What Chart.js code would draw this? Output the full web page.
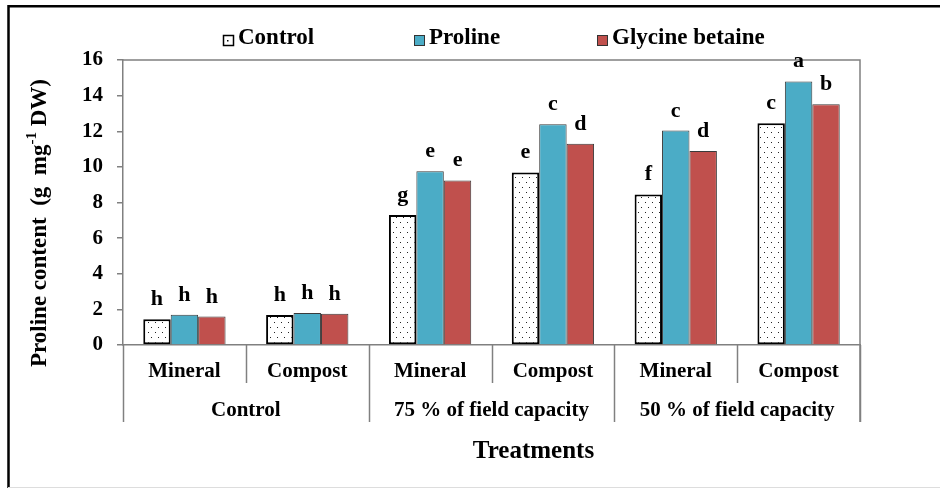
<!DOCTYPE html>
<html>
<head>
<meta charset="utf-8">
<script src="https://cdn.jsdelivr.net/npm/chart.js"></script>
<style>
  body { margin: 0; background: #fff; }
  canvas { display: block; }
</style>
</head>
<body>
<canvas id="chart" width="940" height="488"></canvas>
<script>
// data
const categories = ['Mineral', 'Compost', 'Mineral', 'Compost', 'Mineral', 'Compost'];
const groups = ['Control', '75 % of field capacity', '50 % of field capacity'];
const seriesNames = ['Control', 'Proline', 'Glycine betaine'];
const controlValues = [1.45, 1.69, 7.3, 9.69, 8.45, 12.45];
const prolineValues = [1.7, 1.8, 9.76, 12.4, 12.04, 14.8];
const glycineValues = [1.6, 1.75, 9.24, 11.3, 10.89, 13.52];
const controlLetters = ['h', 'h', 'g', 'e', 'f', 'c'];
const prolineLetters = ['h', 'h', 'e', 'c', 'c', 'a'];
const glycineLetters = ['h', 'h', 'e', 'd', 'd', 'b'];
const yTickValues = [0, 2, 4, 6, 8, 10, 12, 14, 16];

const FONT = "'Liberation Serif', 'Times New Roman', serif";
const GREY = '#808080';
const BLUE = '#4BACC6';
const RED = '#C0504D';

const canvas = document.getElementById('chart');
const ctx = canvas.getContext('2d');

// dotted fill for the control series
function makeDots() {
    const tile = document.createElement('canvas');
    tile.width = 7;
    tile.height = 10;
    const t = tile.getContext('2d');
    t.fillStyle = '#fff';
    t.fillRect(0, 0, 7, 10);
    t.fillStyle = '#222';
    t.fillRect(1, 2, 1, 1);
    t.fillRect(4, 7, 1, 1);
    return ctx.createPattern(tile, 'repeat');
}
const dots = makeDots();

const letters = [controlLetters, prolineLetters, glycineLetters];

const decorations = {
    id: 'decorations',
    beforeDraw(chart) {
        const c = chart.ctx;
        c.save();
        c.fillStyle = '#fff';
        c.fillRect(0, 0, chart.width, chart.height);
        // outer frame
        c.strokeStyle = '#000';
        c.lineWidth = 2.5;
        c.beginPath();
        c.moveTo(8.5, 490);
        c.lineTo(8.5, 6.2);
        c.lineTo(945, 6.2);
        c.stroke();
        c.strokeStyle = '#ddd';
        c.lineWidth = 1;
        c.beginPath();
        c.moveTo(8, 487.5);
        c.lineTo(940, 487.5);
        c.stroke();
        c.restore();
    },
    afterDraw(chart) {
        const c = chart.ctx;
        const area = chart.chartArea;
        const xs = chart.scales.x;
        c.save();

        // plot frame top and right
        c.strokeStyle = GREY;
        c.lineWidth = 1.5;
        c.beginPath();
        c.moveTo(area.left, area.top);
        c.lineTo(area.right, area.top);
        c.lineTo(area.right, 422);
        c.stroke();

        // separators under the axis
        const step = (xs.right - xs.left) / categories.length;
        for (let i = 0; i <= categories.length; i++) {
            const x = Math.round(xs.left + i * step) + 0.5;
            c.beginPath();
            c.moveTo(x, area.bottom);
            c.lineTo(x, i % 2 === 0 ? 422 : 383);
            c.stroke();
        }

        c.fillStyle = '#000';
        c.textAlign = 'center';
        c.textBaseline = 'middle';

        // group labels
        c.font = 'bold 21px ' + FONT;
        groups.forEach((g, i) => {
            c.fillText(g, xs.left + (i * 2 + 1) * step, 411);
        });

        // x title
        c.font = 'bold 25px ' + FONT;
        c.fillText('Treatments', (area.left + area.right) / 2 + 42, 452);

        // y title with superscript
        const parts = [
            { t: 'Proline content  (g  mg', size: 23, dy: 0 },
            { t: '-1', size: 15, dy: -8 },
            { t: ' DW)', size: 23, dy: 0 }
        ];
        let total = 0;
        parts.forEach(p => {
            c.font = 'bold ' + p.size + 'px ' + FONT;
            p.w = c.measureText(p.t).width;
            total += p.w;
        });
        c.translate(40, 223);
        c.rotate(-Math.PI / 2);
        c.textAlign = 'left';
        let px = -total / 2;
        parts.forEach(p => {
            c.font = 'bold ' + p.size + 'px ' + FONT;
            c.fillText(p.t, px, p.dy);
            px += p.w;
        });
        c.setTransform(1, 0, 0, 1, 0, 0);

        // significance letters above bars
        c.textAlign = 'center';
        c.textBaseline = 'alphabetic';
        c.font = 'bold 22px ' + FONT;
        chart.data.datasets.forEach((ds, di) => {
            const meta = chart.getDatasetMeta(di);
            meta.data.forEach((bar, j) => {
                c.fillText(letters[di][j], bar.x, bar.y - 14);
            });
        });

        // legend
        const legendItems = [
            { x: 223, fill: 'dots' },
            { x: 414, fill: BLUE },
            { x: 597, fill: RED }
        ];
        c.font = 'bold 23px ' + FONT;
        c.textAlign = 'left';
        c.textBaseline = 'middle';
        legendItems.forEach((item, i) => {
            const bx = item.x, by = 35;
            if (item.fill === 'dots') {
                c.fillStyle = '#fff';
                c.fillRect(bx, by, 10, 10);
                c.fillStyle = '#000';
                c.fillRect(bx + 4, by + 5, 1.5, 1.5);
                c.strokeStyle = '#000';
                c.lineWidth = 1.5;
            } else {
                c.fillStyle = item.fill;
                c.fillRect(bx, by, 10, 10);
                c.strokeStyle = '#333';
                c.lineWidth = 1;
            }
            c.strokeRect(bx + 0.5, by + 0.5, 10, 10);
            c.fillStyle = '#000';
            c.fillText(seriesNames[i], bx + 15, by + 3);
        });

        c.restore();
    }
};

new Chart(ctx, {
    type: 'bar',
    data: {
        labels: categories,
        datasets: [
            {
                label: seriesNames[0],
                data: controlValues,
                backgroundColor: dots,
                borderColor: '#000',
                borderWidth: 2,
                borderSkipped: false,
                categoryPercentage: 0.67,
                barPercentage: 1
            },
            {
                label: seriesNames[1],
                data: prolineValues,
                backgroundColor: BLUE,
                borderColor: '#3a3a3a',
                borderWidth: 1,
                categoryPercentage: 0.67,
                barPercentage: 1
            },
            {
                label: seriesNames[2],
                data: glycineValues,
                backgroundColor: RED,
                borderColor: '#3a3a3a',
                borderWidth: 1,
                categoryPercentage: 0.67,
                barPercentage: 1
            }
        ]
    },
    options: {
        responsive: false,
        animation: false,
        layout: { padding: { top: 60, right: 80, left: 0, bottom: 0 } },
        plugins: {
            legend: { display: false },
            tooltip: { enabled: false }
        },
        scales: {
            x: {
                grid: { display: false, drawTicks: false },
                border: { display: true, color: GREY, width: 1.5 },
                ticks: {
                    color: '#000',
                    padding: 14,
                    maxRotation: 0,
                    font: { family: FONT, size: 21, weight: 'bold' }
                },
                afterFit: s => { s.height = 143; }
            },
            y: {
                min: 0,
                max: 16,
                afterBuildTicks: s => { s.ticks = yTickValues.map(v => ({ value: v })); },
                grid: { drawOnChartArea: false, tickLength: 6, color: GREY, lineWidth: 1.5 },
                border: { color: GREY, width: 1.5 },
                ticks: {
                    color: '#000',
                    padding: 14,
                    font: { family: FONT, size: 21, weight: 'bold' }
                },
                afterFit: s => { s.width = 123; }
            }
        }
    },
    plugins: [decorations]
});
</script>
</body>
</html>
